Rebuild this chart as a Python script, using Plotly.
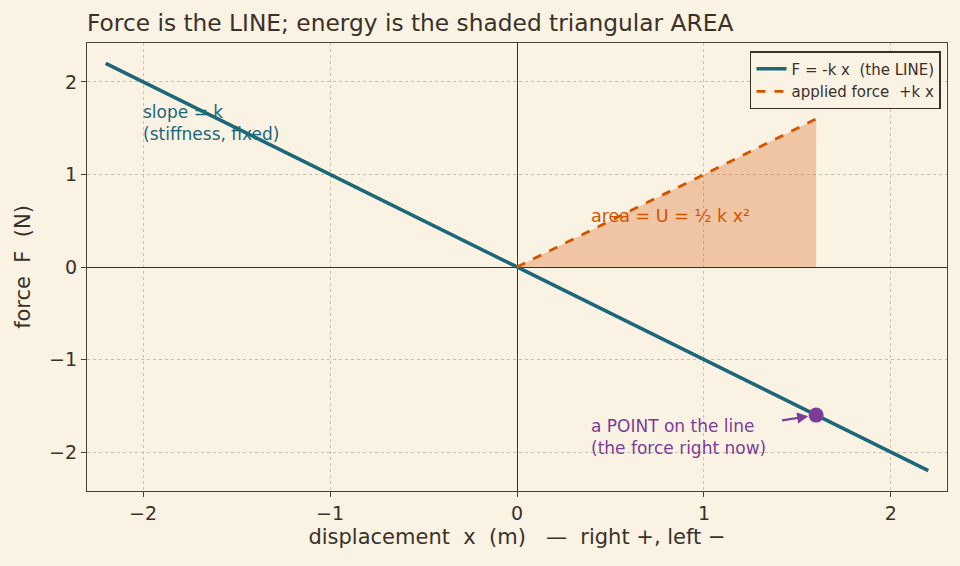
import plotly.graph_objects as go

# data
line_x = [-2.2, 2.2]
k = 1.0
line_F = [-k * v for v in line_x]
applied_x = [0.0, 1.6]
applied_F = [k * v for v in applied_x]
point_x = [1.6]
point_F = [-1.6]
x_ticks = [-2, -1, 0, 1, 2]
y_ticks = [-2, -1, 0, 1, 2]

BG = "#faf2e3"
INK = "#3a3129"
TEAL = "#1b6879"
ORANGE = "#d35400"
PURPLE = "#7d3c98"
FONT = "DejaVu Sans"
NB = "\u00a0"


def sp(s):
    return s.replace("  ", NB + NB)


fig = go.Figure()

# shaded triangle area
fig.add_trace(go.Scatter(
    x=applied_x + [applied_x[-1], applied_x[0]],
    y=applied_F + [0, 0],
    mode="lines", fill="toself",
    fillcolor="rgba(211,84,0,0.28)",
    line=dict(width=0), hoverinfo="skip", showlegend=False))

fig.add_trace(go.Scatter(
    x=line_x, y=line_F, mode="lines",
    line=dict(color=TEAL, width=3.5),
    name=sp("F = -k x  (the LINE)")))

fig.add_trace(go.Scatter(
    x=applied_x, y=applied_F, mode="lines",
    line=dict(color=ORANGE, width=2.8, dash="dash"),
    name=sp("applied force  +k x")))

fig.add_trace(go.Scatter(
    x=point_x, y=point_F, mode="markers",
    marker=dict(color=PURPLE, size=15),
    showlegend=False))

annotations = [
    dict(x=-2.01, y=1.56, xref="x", yref="y", text="slope = k<br>(stiffness, fixed)",
         showarrow=False, xanchor="left", yanchor="middle", align="left",
         font=dict(color=TEAL, size=17, family=FONT)),
    dict(x=0.385, y=0.55, xref="x", yref="y", text="area = U = ½ k x²",
         showarrow=False, xanchor="left", yanchor="middle", align="left",
         font=dict(color=ORANGE, size=17.5, family=FONT)),
    dict(x=0.385, y=-1.84, xref="x", yref="y", text="a POINT on the line<br>(the force right now)",
         showarrow=False, xanchor="left", yanchor="middle", align="left",
         font=dict(color=PURPLE, size=17, family=FONT)),
    dict(x=point_x[0], y=point_F[0], xref="x", yref="y",
         ax=1.41, ay=-1.66, axref="x", ayref="y", text="",
         showarrow=True, arrowhead=2, arrowsize=1, arrowwidth=2.2,
         arrowcolor=PURPLE, standoff=8),
]

fig.update_layout(
    width=960, height=566,
    paper_bgcolor=BG, plot_bgcolor=BG,
    margin=dict(l=87, r=13, t=43, b=75),
    font=dict(family=FONT, color=INK, size=15),
    title=dict(text="Force is the LINE; energy is the shaded triangular AREA",
               x=87 / 960, xanchor="left", y=1 - 23 / 566, yanchor="middle",
               font=dict(size=23.3, color=INK, family=FONT)),
    legend=dict(x=0.993, y=0.982, xanchor="right", yanchor="top",
                bgcolor=BG, bordercolor=INK, borderwidth=1.5,
                font=dict(size=15, color=INK, family=FONT),
                tracegroupgap=0, itemwidth=30),
    annotations=annotations,
    showlegend=True,
)

axis_common = dict(
    showgrid=True, gridcolor="#c8bfae", griddash="dot", gridwidth=1,
    zeroline=True, zerolinecolor=INK, zerolinewidth=1.4,
    showline=True, linecolor="#4a4037", linewidth=1.3, mirror=True,
    ticks="outside", ticklen=5, tickcolor="#4a4037",
    tickfont=dict(size=19, color=INK, family=FONT),
)

fig.update_xaxes(range=[-2.30, 2.30], tickvals=x_ticks,
                 ticktext=[str(v).replace("-", "−") for v in x_ticks],
                 title=dict(text=sp("displacement  x  (m)   —  right +, left −").replace(NB + " ", NB + NB),
                            font=dict(size=21, color=INK, family=FONT), standoff=6),
                 **axis_common)
fig.update_yaxes(range=[-2.42, 2.42], tickvals=y_ticks,
                 ticktext=[str(v).replace("-", "−") for v in y_ticks],
                 title=dict(text=sp("force  F  (N)"),
                            font=dict(size=21, color=INK, family=FONT), standoff=12),
                 **axis_common)

fig.write_html("out.html")
